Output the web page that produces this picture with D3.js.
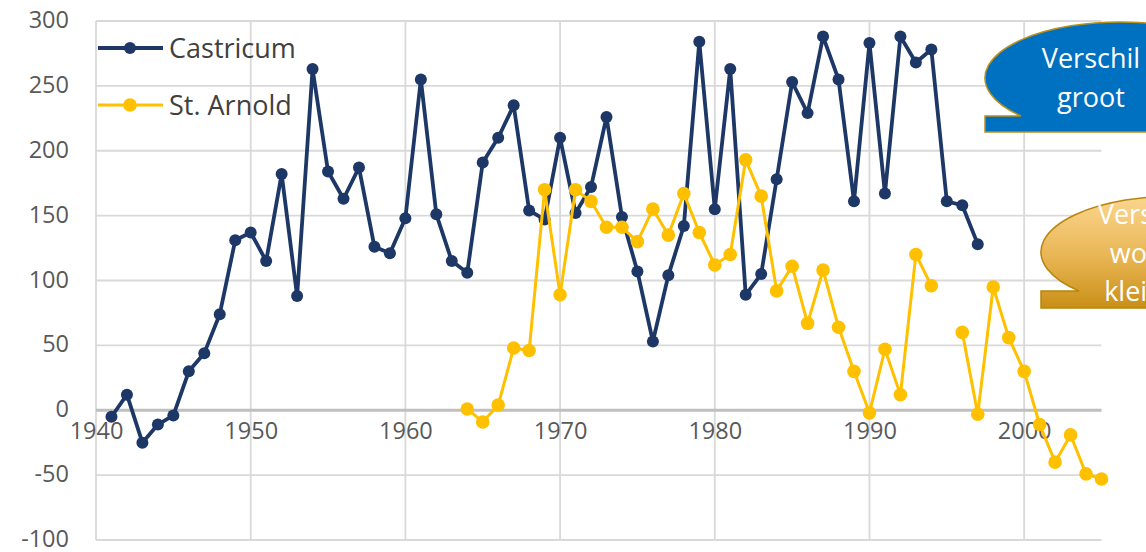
<!DOCTYPE html>
<html>
<head>
<meta charset="utf-8">
<script src="https://cdn.jsdelivr.net/npm/d3@7"></script>
<style>
  html, body { margin: 0; padding: 0; background: #ffffff; overflow: hidden; }
  svg { display: block; }
</style>
</head>
<body>
<svg id="chart" width="1146" height="552"></svg>
<script>
// Yearly values per location
const castricumYears = [1941,1942,1943,1944,1945,1946,1947,1948,1949,1950,
  1951,1952,1953,1954,1955,1956,1957,1958,1959,1960,
  1961,1962,1963,1964,1965,1966,1967,1968,1969,1970,
  1971,1972,1973,1974,1975,1976,1977,1978,1979,1980,
  1981,1982,1983,1984,1985,1986,1987,1988,1989,1990,
  1991,1992,1993,1994,1995,1996,1997];
const castricumValues = [-5,12,-25,-11,-4,30,44,74,131,137,
  115,182,88,263,184,163,187,126,121,148,
  255,151,115,106,191,210,235,154,147,210,
  152,172,226,149,107,53,104,142,284,155,
  263,89,105,178,253,229,288,255,161,283,
  167,288,268,278,161,158,128];

const arnoldYears = [1964,1965,1966,1967,1968,1969,1970,
  1971,1972,1973,1974,1975,1976,1977,1978,1979,1980,
  1981,1982,1983,1984,1985,1986,1987,1988,1989,1990,
  1991,1992,1993,1994,1995,1996,1997,1998,1999,2000,
  2001,2002,2003,2004,2005];
const arnoldValues = [1,-9,4,48,46,170,89,
  170,161,141,141,130,155,135,167,137,112,
  120,193,165,92,111,67,108,64,30,-2,
  47,12,120,96,null,60,-3,95,56,30,
  -11,-40,-19,-49,-53];

const xTicks = [1940,1950,1960,1970,1980,1990,2000];
const yTicks = [-100,-50,0,50,100,150,200,250,300];
const seriesNames = ["Castricum", "St. Arnold"];
const calloutBlueLines = ["Verschil", "groot"];
const calloutGoldLines = ["Verschil", "wordt", "kleiner"];

const svg = d3.select("#chart");
const FONT = "'Open Sans', 'Noto Sans', sans-serif";

const x = d3.scaleLinear().domain([1940, 2005]).range([96, 1101.5]);
const y = d3.scaleLinear().domain([-100, 300]).range([540, 21]);

// gridlines
const grid = svg.append("g");
grid.selectAll("line.h").data(yTicks.filter(v => v !== 0)).join("line")
  .attr("x1", x(1940)).attr("x2", x(2005))
  .attr("y1", d => y(d)).attr("y2", d => y(d))
  .attr("stroke", "#d9d9d9").attr("stroke-width", 1.8);
grid.selectAll("line.v").data(xTicks).join("line")
  .attr("x1", d => x(d)).attr("x2", d => x(d))
  .attr("y1", y(300)).attr("y2", y(-100))
  .attr("stroke", "#d9d9d9").attr("stroke-width", 1.8);
// zero line
grid.append("line")
  .attr("x1", x(1940)).attr("x2", x(2005))
  .attr("y1", y(0)).attr("y2", y(0))
  .attr("stroke", "#bfbfbf").attr("stroke-width", 2.8);

// y axis labels
const yAxis = d3.axisLeft(y).tickValues(yTicks).tickSize(0).tickPadding(0)
  .tickFormat(d => d3.format("d")(d).replace("−", "-"));
svg.append("g").attr("transform", "translate(69,-1)").call(yAxis)
  .call(g => g.select(".domain").remove())
  .call(g => g.selectAll("text").attr("font-family", FONT).attr("font-size", 23.5)
    .attr("fill", "#595959"));

// x axis labels sit just below the zero line
const xAxis = d3.axisBottom(x).tickValues(xTicks).tickSize(0).tickPadding(0)
  .tickFormat(d3.format("d"));
svg.append("g").attr("transform", `translate(0,${y(0) + 22})`).call(xAxis)
  .call(g => g.select(".domain").remove())
  .call(g => g.selectAll("text").attr("font-family", FONT).attr("font-size", 23.5)
    .attr("fill", "#595959").attr("dy", "0.3em"));

const castricum = castricumYears.map((yr, i) => ({ yr, v: castricumValues[i] }));
const arnold = arnoldYears.map((yr, i) => ({ yr, v: arnoldValues[i] }));

const line = d3.line().defined(d => d.v !== null).x(d => x(d.yr)).y(d => y(d.v));

const NAVY = "#1d3866";
const GOLD = "#ffc000";

// Castricum series
svg.append("path").datum(castricum).attr("d", line)
  .attr("fill", "none").attr("stroke", NAVY).attr("stroke-width", 3.8)
  .attr("stroke-linejoin", "round");
svg.append("g").selectAll("circle").data(castricum).join("circle")
  .attr("cx", d => x(d.yr)).attr("cy", d => y(d.v)).attr("r", 6)
  .attr("fill", NAVY);

// St. Arnold series
svg.append("path").datum(arnold).attr("d", line)
  .attr("fill", "none").attr("stroke", GOLD).attr("stroke-width", 3)
  .attr("stroke-linejoin", "round");
svg.append("g").selectAll("circle").data(arnold.filter(d => d.v !== null)).join("circle")
  .attr("cx", d => x(d.yr)).attr("cy", d => y(d.v)).attr("r", 6.8)
  .attr("fill", GOLD);

// legend
const legend = svg.append("g");
const legendRows = [
  { name: seriesNames[0], color: NAVY, w: 3.8, r: 6, y: 48 },
  { name: seriesNames[1], color: GOLD, w: 3, r: 6.8, y: 105 }
];
legendRows.forEach(row => {
  legend.append("line").attr("x1", 98).attr("x2", 163).attr("y1", row.y).attr("y2", row.y)
    .attr("stroke", row.color).attr("stroke-width", row.w);
  legend.append("circle").attr("cx", 130).attr("cy", row.y).attr("r", row.r).attr("fill", row.color);
  legend.append("text").attr("x", 169).attr("y", row.y + 10)
    .attr("font-family", FONT).attr("font-size", 27).attr("fill", "#404040")
    .text(row.name);
});

// speech-bubble callouts
function bubblePath(cx, cy, rx, ry, tipX, tailTop, tailBottom) {
  const dy = (tailTop - cy) / ry;
  const jx = cx - rx * Math.sqrt(1 - dy * dy);
  return `M${tipX},${tailTop} L${jx},${tailTop} ` +
    `A${rx},${ry} 0 1,1 ${cx + rx},${cy} ` +
    `L${cx + rx},${tailBottom} L${tipX},${tailBottom} Z`;
}

const defs = svg.append("defs");
const grad = defs.append("linearGradient").attr("id", "goldFill")
  .attr("x1", 0).attr("y1", 0).attr("x2", 0).attr("y2", 1);
grad.append("stop").attr("offset", "0%").attr("stop-color", "#fbd690");
grad.append("stop").attr("offset", "55%").attr("stop-color", "#e8b553");
grad.append("stop").attr("offset", "100%").attr("stop-color", "#c98f16");

svg.append("path").attr("d", bubblePath(1120, 78, 135, 56, 985, 116, 132))
  .attr("fill", "#0070c0").attr("stroke", "#b8901e").attr("stroke-width", 1.5);
calloutBlueLines.forEach((t, i) => {
  svg.append("text").attr("x", 1091).attr("y", 68 + i * 39).attr("text-anchor", "middle")
    .attr("font-family", FONT).attr("font-size", 27).attr("fill", "#ffffff").text(t);
});

svg.append("path").attr("d", bubblePath(1176, 252, 135, 56, 1041, 291, 308))
  .attr("fill", "url(#goldFill)").attr("stroke", "#b8860b").attr("stroke-width", 1.5);
calloutGoldLines.forEach((t, i) => {
  svg.append("text").attr("x", 1147).attr("y", 224 + i * 38.5).attr("text-anchor", "middle")
    .attr("font-family", FONT).attr("font-size", 27).attr("fill", "#ffffff").text(t);
});
</script>
</body>
</html>
